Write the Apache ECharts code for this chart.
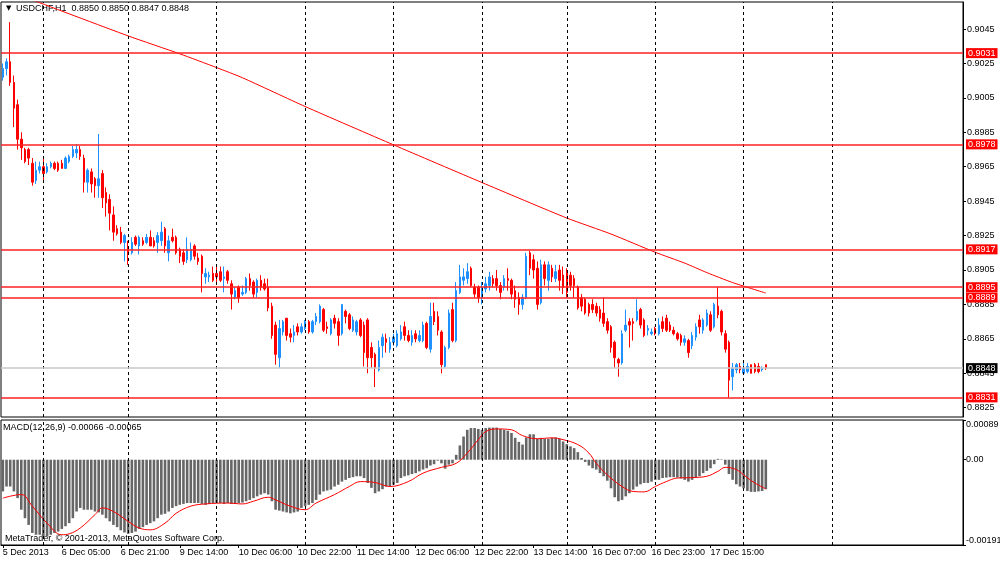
<!DOCTYPE html>
<html>
<head>
<meta charset="utf-8">
<title>USDCHF,H1</title>
<script src="https://cdn.jsdelivr.net/npm/echarts@6.0.0/dist/echarts.min.js"></script>
<style>
  html, body { margin: 0; padding: 0; background: #fff; }
  #chart { width: 1000px; height: 562px; }
</style>
</head>
<body>
<div id="chart"></div>
<script>
// H1 bars, index 0 = 5 Dec 2013 13:00, last = 18 Dec 06:00
const opens = [
  0.9017, 0.9022, 0.9026, 0.9014, 0.9001, 0.8981, 0.8975, 0.8975, 0.8967, 0.8957,
  0.8963, 0.8965, 0.8962, 0.8965, 0.8967, 0.8967, 0.8967, 0.8964, 0.8968, 0.8971,
  0.8973, 0.8975, 0.8970, 0.8956, 0.8962, 0.8958, 0.8954, 0.8961, 0.8950, 0.8946,
  0.8937, 0.8929, 0.8927, 0.8921, 0.8917, 0.8915, 0.8924, 0.8919, 0.8922, 0.8921,
  0.8924, 0.8922, 0.8921, 0.8922, 0.8929, 0.8915, 0.8924, 0.8924, 0.8917, 0.8915,
  0.8911, 0.8911, 0.8919, 0.8912, 0.8913, 0.8901, 0.8901, 0.8903, 0.8903, 0.8904,
  0.8900, 0.8904, 0.8897, 0.8889, 0.8895, 0.8891, 0.8892, 0.8900, 0.8898, 0.8892,
  0.8899, 0.8897, 0.8895, 0.8884, 0.8873, 0.8854, 0.8869, 0.8877, 0.8868, 0.8867,
  0.8872, 0.8869, 0.8871, 0.8875, 0.8869, 0.8875, 0.8875, 0.8882, 0.8872, 0.8868,
  0.8877, 0.8875, 0.8868, 0.8881, 0.8879, 0.8870, 0.8869, 0.8876, 0.8873, 0.8876,
  0.8860, 0.8856, 0.8847, 0.8861, 0.8865, 0.8859, 0.8863, 0.8861, 0.8865, 0.8872,
  0.8867, 0.8863, 0.8868, 0.8864, 0.8864, 0.8874, 0.8859, 0.8881, 0.8878, 0.8869,
  0.8849, 0.8860, 0.8882, 0.8864, 0.8892, 0.8899, 0.8900, 0.8906, 0.8895, 0.8895,
  0.8889, 0.8894, 0.8896, 0.8900, 0.8900, 0.8896, 0.8895, 0.8900, 0.8899, 0.8893,
  0.8889, 0.8885, 0.8889, 0.8915, 0.8911, 0.8906, 0.8886, 0.8908, 0.8899, 0.8906,
  0.8900, 0.8905, 0.8902, 0.8904, 0.8902, 0.8900, 0.8895, 0.8889, 0.8888, 0.8885,
  0.8885, 0.8884, 0.8882, 0.8880, 0.8875, 0.8872, 0.8863, 0.8853, 0.8851, 0.8870,
  0.8875, 0.8875, 0.8876, 0.8882, 0.8876, 0.8870, 0.8868, 0.8871, 0.8868, 0.8875,
  0.8877, 0.8873, 0.8870, 0.8868, 0.8867, 0.8863, 0.8864, 0.8861, 0.8866, 0.8876,
  0.8870, 0.8873, 0.8879, 0.8872, 0.8884, 0.8881, 0.8868, 0.8863, 0.8843, 0.8847,
  0.8849, 0.8845, 0.8846, 0.8850, 0.8850, 0.8849, 0.8847, 0.8850
];
const highs = [
  0.9025, 0.9028, 0.9049, 0.9018, 0.9004, 0.8985, 0.8976, 0.8976, 0.8970, 0.8968,
  0.8968, 0.8971, 0.8967, 0.8968, 0.8968, 0.8968, 0.8969, 0.8971, 0.8972, 0.8977,
  0.8978, 0.8977, 0.8972, 0.8964, 0.8964, 0.8959, 0.8984, 0.8963, 0.8953, 0.8949,
  0.8942, 0.8931, 0.8930, 0.8926, 0.8922, 0.8924, 0.8925, 0.8925, 0.8924, 0.8926,
  0.8928, 0.8924, 0.8927, 0.8933, 0.8930, 0.8925, 0.8929, 0.8925, 0.8918, 0.8917,
  0.8924, 0.8921, 0.8920, 0.8915, 0.8914, 0.8906, 0.8904, 0.8907, 0.8907, 0.8907,
  0.8907, 0.8905, 0.8899, 0.8895, 0.8896, 0.8896, 0.8901, 0.8903, 0.8899, 0.8900,
  0.8902, 0.8900, 0.8900, 0.8886, 0.8875, 0.8876, 0.8876, 0.8877, 0.8871, 0.8873,
  0.8874, 0.8874, 0.8876, 0.8876, 0.8876, 0.8880, 0.8885, 0.8883, 0.8875, 0.8877,
  0.8879, 0.8877, 0.8885, 0.8882, 0.8880, 0.8878, 0.8876, 0.8877, 0.8875, 0.8877,
  0.8863, 0.8857, 0.8864, 0.8868, 0.8868, 0.8866, 0.8868, 0.8870, 0.8873, 0.8875,
  0.8870, 0.8870, 0.8870, 0.8870, 0.8875, 0.8875, 0.8886, 0.8886, 0.8881, 0.8870,
  0.8861, 0.8882, 0.8886, 0.8898, 0.8908, 0.8906, 0.8909, 0.8907, 0.8897, 0.8896,
  0.8898, 0.8901, 0.8904, 0.8902, 0.8905, 0.8898, 0.8902, 0.8906, 0.8900, 0.8896,
  0.8892, 0.8891, 0.8915, 0.8916, 0.8914, 0.8910, 0.8911, 0.8910, 0.8910, 0.8908,
  0.8908, 0.8908, 0.8907, 0.8906, 0.8904, 0.8902, 0.8896, 0.8891, 0.8889, 0.8886,
  0.8888, 0.8886, 0.8884, 0.8889, 0.8877, 0.8873, 0.8864, 0.8854, 0.8870, 0.8882,
  0.8877, 0.8877, 0.8888, 0.8883, 0.8877, 0.8873, 0.8871, 0.8872, 0.8877, 0.8878,
  0.8879, 0.8875, 0.8872, 0.8869, 0.8868, 0.8867, 0.8865, 0.8869, 0.8874, 0.8879,
  0.8877, 0.8882, 0.8881, 0.8886, 0.8895, 0.8882, 0.8870, 0.8864, 0.8851, 0.8851,
  0.8851, 0.8851, 0.8851, 0.8850, 0.8851, 0.8851, 0.8849, 0.8850
];
const lows = [
  0.9015, 0.9018, 0.9012, 0.8988, 0.8975, 0.8969, 0.8967, 0.8966, 0.8954, 0.8955,
  0.8961, 0.8956, 0.8961, 0.8964, 0.8963, 0.8962, 0.8964, 0.8964, 0.8967, 0.8970,
  0.8970, 0.8969, 0.8950, 0.8950, 0.8950, 0.8947, 0.8947, 0.8941, 0.8936, 0.8928,
  0.8922, 0.8925, 0.8920, 0.8910, 0.8908, 0.8914, 0.8919, 0.8914, 0.8919, 0.8920,
  0.8919, 0.8918, 0.8915, 0.8919, 0.8915, 0.8910, 0.8921, 0.8914, 0.8909, 0.8908,
  0.8909, 0.8910, 0.8911, 0.8908, 0.8892, 0.8897, 0.8898, 0.8898, 0.8898, 0.8898,
  0.8892, 0.8897, 0.8882, 0.8888, 0.8886, 0.8890, 0.8891, 0.8893, 0.8889, 0.8889,
  0.8893, 0.8893, 0.8881, 0.8865, 0.8850, 0.8848, 0.8867, 0.8864, 0.8863, 0.8863,
  0.8867, 0.8868, 0.8870, 0.8868, 0.8868, 0.8873, 0.8874, 0.8869, 0.8868, 0.8867,
  0.8871, 0.8861, 0.8867, 0.8874, 0.8870, 0.8869, 0.8867, 0.8866, 0.8849, 0.8845,
  0.8848, 0.8837, 0.8846, 0.8854, 0.8857, 0.8857, 0.8861, 0.8860, 0.8864, 0.8864,
  0.8863, 0.8861, 0.8863, 0.8863, 0.8863, 0.8859, 0.8857, 0.8873, 0.8867, 0.8845,
  0.8848, 0.8859, 0.8863, 0.8863, 0.8891, 0.8896, 0.8897, 0.8895, 0.8889, 0.8886,
  0.8885, 0.8892, 0.8893, 0.8895, 0.8893, 0.8888, 0.8893, 0.8893, 0.8888, 0.8883,
  0.8879, 0.8882, 0.8888, 0.8902, 0.8900, 0.8882, 0.8885, 0.8896, 0.8893, 0.8898,
  0.8898, 0.8893, 0.8891, 0.8889, 0.8893, 0.8889, 0.8882, 0.8881, 0.8879, 0.8878,
  0.8880, 0.8878, 0.8875, 0.8872, 0.8868, 0.8857, 0.8848, 0.8843, 0.8850, 0.8869,
  0.8860, 0.8864, 0.8875, 0.8871, 0.8866, 0.8867, 0.8867, 0.8867, 0.8867, 0.8869,
  0.8869, 0.8869, 0.8867, 0.8864, 0.8861, 0.8861, 0.8854, 0.8859, 0.8864, 0.8868,
  0.8868, 0.8872, 0.8869, 0.8871, 0.8877, 0.8867, 0.8857, 0.8831, 0.8835, 0.8845,
  0.8845, 0.8844, 0.8845, 0.8845, 0.8845, 0.8845, 0.8846, 0.8847
];
const closes = [
  0.9022, 0.9026, 0.9014, 0.8999, 0.8981, 0.8976, 0.8968, 0.8970, 0.8956, 0.8963,
  0.8965, 0.8961, 0.8965, 0.8967, 0.8964, 0.8963, 0.8964, 0.8970, 0.8971, 0.8975,
  0.8975, 0.8971, 0.8956, 0.8963, 0.8955, 0.8954, 0.8958, 0.8947, 0.8944, 0.8938,
  0.8927, 0.8926, 0.8921, 0.8925, 0.8915, 0.8921, 0.8920, 0.8924, 0.8920, 0.8924,
  0.8919, 0.8919, 0.8925, 0.8927, 0.8919, 0.8922, 0.8922, 0.8915, 0.8913, 0.8910,
  0.8917, 0.8917, 0.8913, 0.8910, 0.8903, 0.8903, 0.8902, 0.8899, 0.8901, 0.8899,
  0.8901, 0.8899, 0.8891, 0.8893, 0.8889, 0.8892, 0.8900, 0.8896, 0.8891, 0.8899,
  0.8895, 0.8894, 0.8883, 0.8867, 0.8856, 0.8871, 0.8875, 0.8867, 0.8866, 0.8869,
  0.8869, 0.8872, 0.8875, 0.8869, 0.8875, 0.8878, 0.8884, 0.8870, 0.8871, 0.8876,
  0.8874, 0.8867, 0.8885, 0.8878, 0.8871, 0.8876, 0.8875, 0.8867, 0.8857, 0.8854,
  0.8854, 0.8848, 0.8860, 0.8866, 0.8863, 0.8863, 0.8866, 0.8868, 0.8869, 0.8867,
  0.8864, 0.8867, 0.8865, 0.8867, 0.8873, 0.8860, 0.8878, 0.8875, 0.8870, 0.8850,
  0.8860, 0.8880, 0.8864, 0.8893, 0.8901, 0.8901, 0.8904, 0.8896, 0.8891, 0.8889,
  0.8895, 0.8897, 0.8901, 0.8897, 0.8896, 0.8892, 0.8900, 0.8899, 0.8891, 0.8888,
  0.8885, 0.8889, 0.8913, 0.8906, 0.8905, 0.8885, 0.8908, 0.8900, 0.8908, 0.8901,
  0.8904, 0.8899, 0.8895, 0.8892, 0.8896, 0.8896, 0.8883, 0.8884, 0.8880, 0.8880,
  0.8882, 0.8880, 0.8877, 0.8874, 0.8870, 0.8860, 0.8854, 0.8851, 0.8868, 0.8873,
  0.8873, 0.8874, 0.8881, 0.8873, 0.8867, 0.8871, 0.8869, 0.8868, 0.8873, 0.8871,
  0.8870, 0.8870, 0.8868, 0.8865, 0.8863, 0.8865, 0.8857, 0.8867, 0.8872, 0.8872,
  0.8876, 0.8880, 0.8870, 0.8885, 0.8879, 0.8869, 0.8859, 0.8841, 0.8848, 0.8850,
  0.8847, 0.8848, 0.8849, 0.8845, 0.8846, 0.8846, 0.8848, 0.8848
];

// moving average: [bar index, price]
const maPoints = [
  [8, 0.90619], [34, 0.90410], [48, 0.90306], [58, 0.90226], [65, 0.90167],
  [82, 0.90000], [106, 0.89777], [130, 0.89558], [153, 0.89352], [165, 0.89259],
  [177, 0.89153], [185, 0.89090], [191, 0.89035], [198, 0.88977], [207, 0.88916]
];

// MACD(12,26,9) histogram, one value per bar
const macdHist = [
  -0.00071, -0.00060, -0.00060, -0.00071, -0.00086, -0.00112, -0.00131, -0.00146, -0.00164, -0.00168,
  -0.00168, -0.00172, -0.00172, -0.00168, -0.00164, -0.00161, -0.00155, -0.00149, -0.00142, -0.00131,
  -0.00116, -0.00108, -0.00112, -0.00112, -0.00112, -0.00116, -0.00118, -0.00123, -0.00131, -0.00138,
  -0.00146, -0.00151, -0.00158, -0.00163, -0.00166, -0.00164, -0.00161, -0.00155, -0.00151, -0.00146,
  -0.00142, -0.00138, -0.00131, -0.00123, -0.00121, -0.00116, -0.00108, -0.00104, -0.00101, -0.00099,
  -0.00097, -0.00097, -0.00097, -0.00097, -0.00099, -0.00101, -0.00099, -0.00097, -0.00097, -0.00097,
  -0.00099, -0.00097, -0.00099, -0.00099, -0.00097, -0.00096, -0.00093, -0.00090, -0.00086, -0.00082,
  -0.00078, -0.00075, -0.00078, -0.00093, -0.00112, -0.00114, -0.00116, -0.00118, -0.00120, -0.00118,
  -0.00116, -0.00108, -0.00104, -0.00101, -0.00097, -0.00090, -0.00078, -0.00071, -0.00069, -0.00067,
  -0.00060, -0.00056, -0.00049, -0.00045, -0.00041, -0.00039, -0.00037, -0.00037, -0.00041, -0.00052,
  -0.00063, -0.00075, -0.00071, -0.00066, -0.00060, -0.00060, -0.00056, -0.00052, -0.00041, -0.00037,
  -0.00035, -0.00032, -0.00030, -0.00026, -0.00022, -0.00019, -0.00013, -0.00010, -0.00002, -0.00008,
  -0.00020, -0.00011, -0.00008, 0.00011, 0.00032, 0.00052, 0.00067, 0.00071, 0.00071, 0.00069,
  0.00067, 0.00071, 0.00072, 0.00072, 0.00072, 0.00069, 0.00067, 0.00065, 0.00060, 0.00049,
  0.00040, 0.00034, 0.00050, 0.00057, 0.00057, 0.00047, 0.00049, 0.00047, 0.00047, 0.00049,
  0.00050, 0.00047, 0.00041, 0.00035, 0.00030, 0.00026, 0.00017, 0.00004, -0.00005, -0.00013,
  -0.00019, -0.00022, -0.00030, -0.00037, -0.00047, -0.00064, -0.00084, -0.00093, -0.00090, -0.00082,
  -0.00075, -0.00067, -0.00060, -0.00055, -0.00052, -0.00052, -0.00049, -0.00045, -0.00045, -0.00041,
  -0.00040, -0.00039, -0.00039, -0.00040, -0.00042, -0.00045, -0.00049, -0.00045, -0.00040, -0.00037,
  -0.00030, -0.00025, -0.00019, -0.00010, 0.00002, 0.00001, -0.00011, -0.00032, -0.00045, -0.00055,
  -0.00060, -0.00064, -0.00070, -0.00072, -0.00072, -0.00071, -0.00070, -0.00066
];

// signal line, read at points along the curve: [bar index, value]
const macdSignal = [
  [0, -0.00086], [5, -0.00078], [8, -0.00104], [12, -0.00142], [16, -0.00168],
  [18, -0.00166], [21, -0.00153], [25, -0.00123], [27, -0.00108], [30, -0.00116],
  [34, -0.00138], [37, -0.00153], [40, -0.00157], [44, -0.00142], [47, -0.00120],
  [51, -0.00104], [55, -0.00099], [61, -0.00097], [65, -0.00099], [68, -0.00093],
  [72, -0.00084], [74, -0.00090], [78, -0.00104], [82, -0.00112], [85, -0.00097],
  [90, -0.00078], [94, -0.00060], [97, -0.00049], [101, -0.00051], [105, -0.00060],
  [110, -0.00049], [114, -0.00030], [119, -0.00017], [123, -0.00008], [126, 0.00015],
  [129, 0.00045], [131, 0.00063], [134, 0.00069], [138, 0.00067], [141, 0.00054],
  [145, 0.00047], [149, 0.00049], [152, 0.00045], [156, 0.00034], [159, 0.00015],
  [161, -0.00008], [164, -0.00034], [168, -0.00060], [171, -0.00071], [174, -0.00072],
  [177, -0.00060], [180, -0.00049], [183, -0.00041], [187, -0.00040], [191, -0.00037],
  [194, -0.00026], [196, -0.00017], [199, -0.00022], [201, -0.00034], [204, -0.00052],
  [207, -0.00065]
];

const levels = [0.9031, 0.8978, 0.8917, 0.8895, 0.8889, 0.8831];
const bidPrice = 0.8848;

const priceTicks = [0.8825, 0.8845, 0.8865, 0.8885, 0.8905, 0.8925, 0.8945, 0.8965, 0.8985, 0.9005, 0.9025, 0.9045];
const priceMin = 0.88196, priceMax = 0.90607;
const macdTicks = [-0.00191, 0, 0.00089];

// day separators (midnight bars) and time labels every 16 bars
const daySeparators = [11, 34, 58, 82, 106, 130, 153, 177, 201, 225];
const timeLabels = [
  [0, '5 Dec 2013'], [16, '6 Dec 05:00'], [32, '6 Dec 21:00'], [48, '9 Dec 14:00'],
  [64, '10 Dec 06:00'], [80, '10 Dec 22:00'], [96, '11 Dec 14:00'], [112, '12 Dec 06:00'],
  [128, '12 Dec 22:00'], [144, '13 Dec 14:00'], [160, '16 Dec 07:00'], [176, '16 Dec 23:00'],
  [192, '17 Dec 15:00']
];
const slotCount = 261; // bars plus the empty shift on the right

const titleText = 'USDCHF,H1  0.8850 0.8850 0.8847 0.8848';
const macdText = 'MACD(12,26,9) -0.00066 -0.00065';
const copyText = 'MetaTrader, \u00a9 2001-2013, MetaQuotes Software Corp.';

const FONT = 'Liberation Sans';
const slots = [];
for (let i = 0; i < slotCount; i++) slots.push(String(i));
const labelAt = {};
timeLabels.forEach(([i, t]) => { labelAt[i] = t; });
const hasLabel = (i) => labelAt[i] !== undefined;

const candles = opens.map((o, i) => [o, closes[i], lows[i], highs[i]]);

function separators() {
  return {
    symbol: 'none',
    silent: true,
    label: { show: false },
    lineStyle: { color: '#000', type: [3, 3], width: 1 },
    data: daySeparators.map(i => ({ xAxis: i }))
  };
}

const levelLines = levels.map(v => ({
  yAxis: v,
  lineStyle: { color: '#ff2020', width: 1.5, type: 'solid' },
  label: { backgroundColor: '#ff0000' }
}));
levelLines.push({
  yAxis: bidPrice,
  lineStyle: { color: '#c8c8c8', width: 1.5, type: 'solid' },
  label: { backgroundColor: '#000' }
});

const chart = echarts.init(document.getElementById('chart'));

chart.setOption({
  animation: false,
  backgroundColor: '#fff',
  textStyle: { fontFamily: FONT },
  grid: [
    { left: 1, top: 2, width: 962, height: 415, show: true, borderColor: '#000', borderWidth: 1, backgroundColor: 'transparent', outerBoundsMode: 'none' },
    { left: 1, top: 420, width: 962, height: 125, show: true, borderColor: '#000', borderWidth: 1, backgroundColor: 'transparent', outerBoundsMode: 'none' }
  ],
  xAxis: [
    {
      type: 'category', gridIndex: 0, data: slots,
      axisLine: { show: false }, axisTick: { show: false }, axisLabel: { show: false }, splitLine: { show: false }
    },
    {
      type: 'category', gridIndex: 1, data: slots, position: 'bottom',
      axisLine: { show: true, onZero: false, lineStyle: { color: '#000', width: 1 } },
      axisTick: { show: true, alignWithLabel: true, interval: hasLabel, length: 3, lineStyle: { color: '#000' } },
      axisLabel: {
        interval: hasLabel, align: 'left', margin: 3,
        formatter: (v, i) => labelAt[i] || '',
        color: '#000', fontSize: 9, fontFamily: FONT
      },
      splitLine: { show: false }
    }
  ],
  yAxis: [
    {
      type: 'value', gridIndex: 0, position: 'right', min: priceMin, max: priceMax,
      splitLine: { show: false },
      axisLine: { show: true, lineStyle: { color: '#000' } },
      axisTick: { show: true, length: 3, customValues: priceTicks, lineStyle: { color: '#000' } },
      axisLabel: {
        customValues: priceTicks, margin: 4, color: '#000', fontSize: 9, fontFamily: FONT,
        formatter: v => v.toFixed(4)
      }
    },
    {
      type: 'value', gridIndex: 1, position: 'right', min: macdTicks[0], max: macdTicks[2],
      splitLine: { show: false },
      axisLine: { show: true, lineStyle: { color: '#000' } },
      axisTick: { show: true, length: 3, customValues: macdTicks, lineStyle: { color: '#000' } },
      axisLabel: {
        customValues: macdTicks, margin: 3, color: '#000', fontSize: 9, fontFamily: FONT,
        verticalAlignMinLabel: 'bottom', verticalAlignMaxLabel: 'top',
        formatter: v => (v === 0 ? '0.00' : v.toFixed(5))
      }
    }
  ],
  series: [
    {
      type: 'candlestick', xAxisIndex: 0, yAxisIndex: 0,
      data: candles, barWidth: 2,
      itemStyle: {
        color: '#1e90ff', color0: '#ff0000',
        borderColor: '#1e90ff', borderColor0: '#ff0000', borderWidth: 1
      },
      markLine: separators()
    },
    {
      type: 'line', xAxisIndex: 0, yAxisIndex: 0,
      data: maPoints, symbol: 'none', smooth: 0.2,
      lineStyle: { color: '#ff0000', width: 1 },
      markLine: {
        symbol: 'none', silent: true, precision: 4,
        label: {
          show: true, position: 'end', distance: 3, color: '#fff',
          fontSize: 9, fontFamily: FONT, padding: [1, 2, 0, 2],
          formatter: p => p.value.toFixed(4)
        },
        data: levelLines
      }
    },
    {
      type: 'bar', xAxisIndex: 1, yAxisIndex: 1,
      data: macdHist, barWidth: 2.6,
      itemStyle: { color: '#666666' },
      markLine: separators()
    },
    {
      type: 'line', xAxisIndex: 1, yAxisIndex: 1,
      data: macdSignal, symbol: 'none', smooth: 0.4,
      lineStyle: { color: '#ff0000', width: 1 }
    }
  ],
  graphic: [
    { type: 'text', x: 6, y: 5, style: { text: '\u25bc', font: '7px "DejaVu Sans"', fill: '#000' } },
    { type: 'text', x: 16, y: 4, style: { text: titleText, font: '9px "' + FONT + '"', fill: '#000' } },
    { type: 'text', x: 3, y: 423, style: { text: macdText, font: '9px "' + FONT + '"', fill: '#000' } },
    { type: 'text', x: 5, y: 534, style: { text: copyText, font: '9px "' + FONT + '"', fill: '#000' } }
  ]
});

window.addEventListener('resize', () => chart.resize());
</script>
</body>
</html>
